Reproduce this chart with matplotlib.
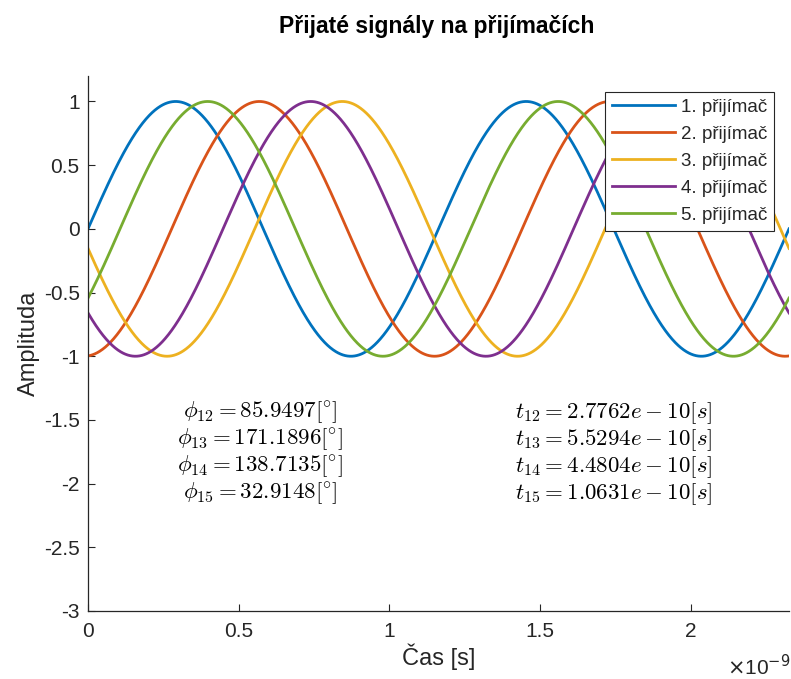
"""Received signals on five receivers (phase-shifted sine waves)."""

import numpy as np
import matplotlib.pyplot as plt

# Values
FREQ = 860e6                      # Hz, from t12 / phi12
PHASES = [0.0, 85.9497, 171.1896, 138.7135, 32.9148]   # deg, vs receiver 1
DELAYS = ["2.7762e-10", "5.5294e-10", "4.4804e-10", "1.0631e-10"]
LABELS = ["1. přijímač", "2. přijímač", "3. přijímač", "4. přijímač", "5. přijímač"]
COLORS = ["#0072BD", "#D95319", "#EDB120", "#7E2F8E", "#77AC30"]

TITLE = "Přijaté signály na přijímačích"

# =============================================================================
plt.rcParams["font.family"] = ["Liberation Sans", "DejaVu Sans"]
plt.rcParams["mathtext.fontset"] = "cm"

period = 1 / FREQ
t = np.linspace(0, 2 * period, 1500)

fig = plt.figure(figsize=(7.91, 6.79), dpi=100)
ax = fig.add_axes([88 / 791, 1 - 611 / 679, 701 / 791, 535 / 679])

for ph, lab, col in zip(PHASES, LABELS, COLORS):
    ax.plot(t, np.sin(2 * np.pi * FREQ * t - np.deg2rad(ph)), color=col, lw=2, label=lab)

ax.set_xlim(0, 2 * period)
ax.set_ylim(-3, 1.2)
ax.set_yticks(np.arange(-3, 1.01, 0.5))
ax.set_yticklabels(["-3", "-2.5", "-2", "-1.5", "-1", "-0.5", "0", "0.5", "1"])
ax.set_xticks([0, 0.5e-9, 1e-9, 1.5e-9, 2e-9])
ax.set_xticklabels(["0", "0.5", "1", "1.5", "2"])

gray = "#262626"
for s in ["top", "right"]:
    ax.spines[s].set_visible(False)
for s in ["left", "bottom"]:
    ax.spines[s].set_color(gray)
    ax.spines[s].set_linewidth(0.9)
ax.tick_params(colors=gray, labelsize=15, direction="in", length=5, width=0.8)
ax.tick_params(axis="x", pad=8)
ax.tick_params(axis="y", pad=6)

ax.set_xlabel("Čas [s]", fontsize=17, color=gray, labelpad=2)
ax.set_ylabel("Amplituda", fontsize=17, color=gray, labelpad=3)
fig.text(790 / 791, 1 - 667 / 679, r"$\times$10$^{-9}$", ha="right", va="center",
         fontsize=15, color=gray, math_fontfamily="dejavusans")
fig.text(437 / 791, 1 - 27 / 679, TITLE, ha="center", va="center",
         fontsize=16.5, fontweight="bold", color="black")

leg = ax.legend(loc="upper right", bbox_to_anchor=(774 / 791, 1 - 92 / 679),
                bbox_transform=fig.transFigure, fontsize=13.5, frameon=True,
                fancybox=False, edgecolor=gray, framealpha=1, handlelength=3.4,
                borderpad=0.35, labelspacing=0.53, handletextpad=0.3,
                borderaxespad=0)
leg.get_frame().set_linewidth(0.8)
for txt in leg.get_texts():
    txt.set_color(gray)

# Annotations
ys = [413, 440, 467, 494]
for i, (ph, dl) in enumerate(zip(PHASES[1:], DELAYS)):
    y = 1 - ys[i] / 679
    fig.text(260 / 791, y, r"$\phi_{1%d} = %s[^{\circ}]$" % (i + 2, ph),
             ha="center", va="center", fontsize=16.5)
    mant, ex = dl.split("e")
    fig.text(614 / 791, y, r"$t_{1%d} = %se-%s[s]$" % (i + 2, mant, ex[1:]),
             ha="center", va="center", fontsize=16.5)

fig.savefig("out.png", dpi=100)
print("Finished.")
